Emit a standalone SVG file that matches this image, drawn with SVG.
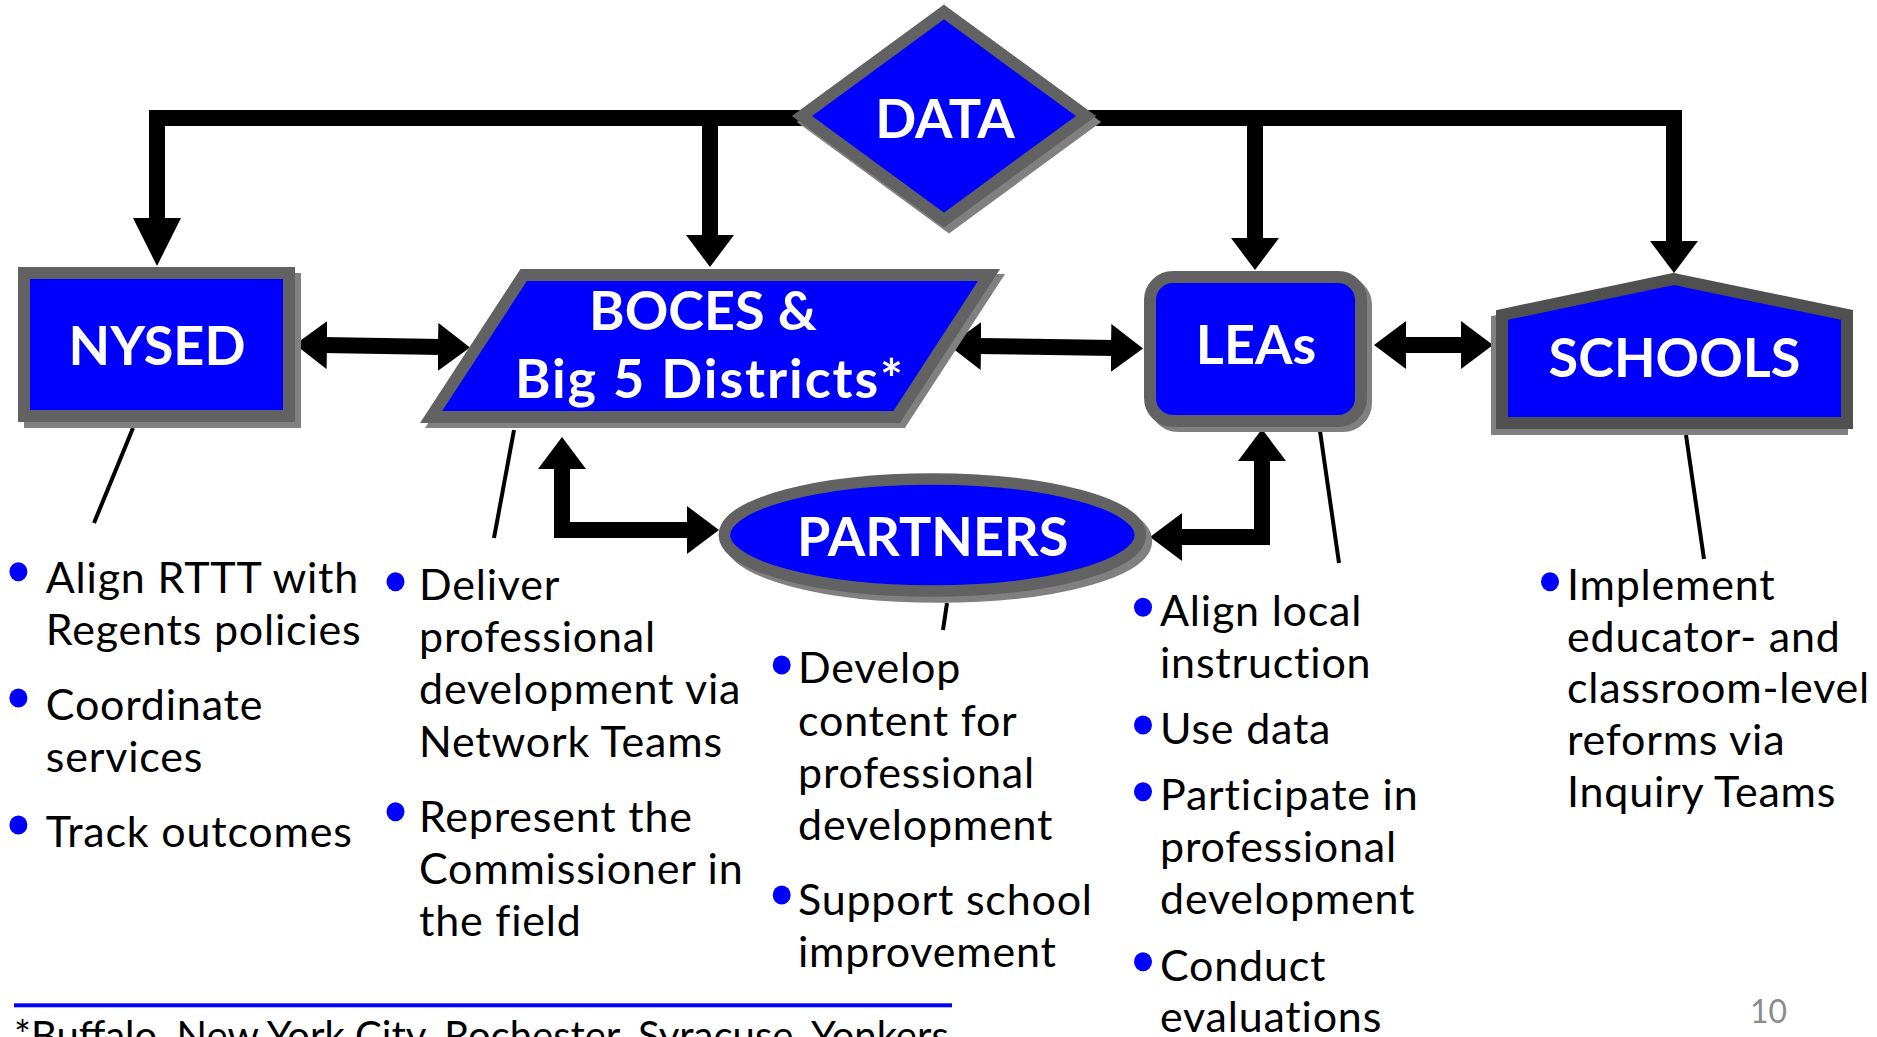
<svg xmlns="http://www.w3.org/2000/svg" width="1877" height="1037" viewBox="0 0 1877 1037">
<style>
.shadow{fill:#808080;stroke:#808080;stroke-width:12;stroke-linejoin:miter}
.shape{fill:#0000FF;stroke:#626262;stroke-width:12;stroke-linejoin:miter}
.label{font-family:Lato,"Liberation Sans",sans-serif;font-weight:700;font-size:54px;fill:#FFFFFF;text-anchor:middle}
.body{font-family:Lato,"Liberation Sans",sans-serif;font-size:43px;letter-spacing:0.8px;fill:#000000}
.bul{fill:#0000FF}
.conn{fill:none;stroke:#000000;stroke-width:16;stroke-linejoin:miter}
.leader{fill:none;stroke:#000000;stroke-width:4}
</style>
<defs>
<marker id="ah" viewBox="0 0 32 48" markerWidth="32" markerHeight="48" markerUnits="userSpaceOnUse" refX="4" refY="24" orient="auto-start-reverse">
<path d="M0,0 L32,24 L0,48 Z" fill="#000000"/>
</marker>
<marker id="ahLong" viewBox="0 0 48 48" markerWidth="48" markerHeight="48" markerUnits="userSpaceOnUse" refX="4" refY="24" orient="auto-start-reverse">
<path d="M0,0 L48,24 L0,48 Z" fill="#000000"/>
</marker>
</defs>
<rect width="1877" height="1037" fill="#FFFFFF"/>

<g id="connectors">
<path class="conn" d="M850,118 H157 V222" marker-end="url(#ahLong)"/>
<path class="conn" d="M850,118 H710 V239" marker-end="url(#ah)"/>
<path class="conn" d="M1040,118 H1255 V242" marker-end="url(#ah)"/>
<path class="conn" d="M1040,118 H1674 V245" marker-end="url(#ah)"/>
<path class="conn" d="M323,345 L442,347" marker-start="url(#ah)" marker-end="url(#ah)"/>
<path class="conn" d="M977,346 L1115,348" marker-start="url(#ah)" marker-end="url(#ah)"/>
<path class="conn" d="M1402,345 L1465,345" marker-start="url(#ah)" marker-end="url(#ah)"/>
<path class="conn" d="M562,465 V530 H691" marker-start="url(#ah)" marker-end="url(#ah)"/>
<path class="conn" d="M1262,457 V537 H1178" marker-start="url(#ah)" marker-end="url(#ah)"/>
<path class="leader" d="M133,428 L94,523"/>
<path class="leader" d="M514,430 L494,538"/>
<path class="leader" d="M947,603 L943,630"/>
<path class="leader" d="M1320,431 L1339,563"/>
<path class="leader" d="M1686,435 L1704,559"/>
</g>

<g id="node-data">
<polygon class="shadow" transform="translate(5,6)" points="944,12 1086,116 944,220 802,116"/>
<polygon class="shape" points="944,12 1086,116 944,220 802,116"/>
<text class="label" x="945" y="138">DATA</text>
</g>

<g id="node-nysed">
<rect class="shadow" transform="translate(6,6)" x="24" y="273" width="265" height="143"/>
<rect class="shape" x="24" y="273" width="265" height="143"/>
<text class="label" x="157" y="365">NYSED</text>
</g>

<g id="node-boces">
<polygon class="shadow" transform="translate(5,5)" points="523.7,275 989,275 896.6,417 431.1,417"/>
<polygon class="shape" points="523.7,275 989,275 896.6,417 431.1,417"/>
<text class="label" x="703" y="330">BOCES &amp;</text>
<text class="label" x="709" y="398" textLength="388" lengthAdjust="spacing">Big 5 Districts*</text>
</g>

<g id="node-leas">
<rect class="shadow" transform="translate(5,5)" x="1150" y="277" width="211" height="144" rx="23"/>
<rect class="shape" x="1150" y="277" width="211" height="144" rx="23"/>
<text class="label" x="1256" y="364">LEAs</text>
</g>

<g id="node-schools">
<polygon class="shadow" transform="translate(-5,6)" points="1674,279 1847,315 1847,423 1502,423 1502,315"/>
<polygon class="shape" style="stroke:#505050" points="1674,279 1847,315 1847,423 1502,423 1502,315"/>
<text class="label" x="1674.5" y="377">SCHOOLS</text>
</g>

<g id="node-partners">
<ellipse class="shadow" style="stroke-width:11.5" transform="translate(6,6)" cx="932.4" cy="535" rx="208" ry="56"/>
<ellipse class="shape" style="stroke-width:11.5" cx="932.4" cy="535" rx="208" ry="56"/>
<text class="label" x="932.7" y="556">PARTNERS</text>
</g>

<g id="list-nysed">
<ellipse class="bul" cx="18.4" cy="571.7" rx="9" ry="9.5"/>
<ellipse class="bul" cx="18.4" cy="698" rx="9" ry="9.5"/>
<ellipse class="bul" cx="18.4" cy="825" rx="9" ry="9.5"/>
<text class="body" x="45.8" y="592.7">Align RTTT with</text>
<text class="body" x="45.8" y="645">Regents policies</text>
<text class="body" x="45.8" y="720">Coordinate</text>
<text class="body" x="45.8" y="771.7">services</text>
<text class="body" x="45.8" y="846.7">Track outcomes</text>
</g>

<g id="list-boces">
<ellipse class="bul" cx="395.5" cy="581.7" rx="9" ry="9.5"/>
<ellipse class="bul" cx="395.5" cy="811.7" rx="9" ry="9.5"/>
<text class="body" x="419" y="600">Deliver</text>
<text class="body" x="419" y="652">professional</text>
<text class="body" x="419" y="704">development via</text>
<text class="body" x="419" y="756.7">Network Teams</text>
<text class="body" x="419" y="831.7">Represent the</text>
<text class="body" x="419" y="883.7">Commissioner in</text>
<text class="body" x="419" y="935.7">the field</text>
</g>

<g id="list-partners">
<ellipse class="bul" cx="781.7" cy="665" rx="9" ry="9.5"/>
<ellipse class="bul" cx="781.7" cy="895" rx="9" ry="9.5"/>
<text class="body" x="798" y="683.3">Develop</text>
<text class="body" x="798" y="736">content for</text>
<text class="body" x="798" y="788">professional</text>
<text class="body" x="798" y="840">development</text>
<text class="body" x="798" y="915">Support school</text>
<text class="body" x="798" y="967">improvement</text>
</g>

<g id="list-leas">
<ellipse class="bul" cx="1143" cy="607.3" rx="9" ry="9.5"/>
<ellipse class="bul" cx="1143" cy="725" rx="9" ry="9.5"/>
<ellipse class="bul" cx="1143" cy="791.7" rx="9" ry="9.5"/>
<ellipse class="bul" cx="1143" cy="961.7" rx="9" ry="9.5"/>
<text class="body" x="1160" y="626">Align local</text>
<text class="body" x="1160" y="678.3">instruction</text>
<text class="body" x="1160" y="744">Use data</text>
<text class="body" x="1160" y="810">Participate in</text>
<text class="body" x="1160" y="862">professional</text>
<text class="body" x="1160" y="914.3">development</text>
<text class="body" x="1160" y="980.7">Conduct</text>
<text class="body" x="1160" y="1032">evaluations</text>
</g>

<g id="list-schools">
<ellipse class="bul" cx="1550" cy="581.7" rx="9" ry="9.5"/>
<text class="body" x="1567" y="600">Implement</text>
<text class="body" x="1567" y="651.7">educator- and</text>
<text class="body" x="1567" y="703.3">classroom-level</text>
<text class="body" x="1567" y="755">reforms via</text>
<text class="body" x="1567" y="807.3">Inquiry Teams</text>
</g>

<g id="footer">
<rect x="14" y="1003.3" width="938" height="4" fill="#0000FF"/>
<text class="body" style="font-size:40px;letter-spacing:0" x="14" y="1050">*Buffalo, New York City, Rochester, Syracuse, Yonkers</text>
<text x="1787" y="1023" style="font-family:Lato,'Liberation Sans',sans-serif;font-size:32px;fill:#8C8C8C;text-anchor:end">10</text>
</g>
</svg>
